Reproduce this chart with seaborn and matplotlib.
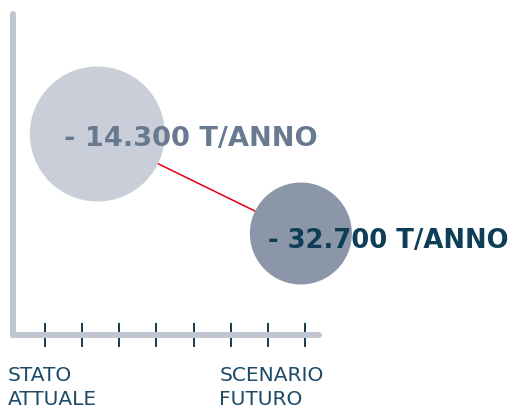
import matplotlib
matplotlib.use("Agg")
import matplotlib.pyplot as plt
import seaborn as sns

# dati: riduzione annua nei due scenari
scenari = ["STATO\nATTUALE", "SCENARIO\nFUTURO"]
riduzione = [-14300, -32700]          # t/anno
tempo = [2.41, 7.89]                  # posizione sull'asse dei tempi
passi = [1, 2, 3, 4, 5, 6, 7, 8]      # tacche dell'asse x
etichetta_x = [0.0, 5.69]             # dove cominciano le etichette in basso

colori_bolle = ["#c9ced8", "#8b97a8"]
colori_testo = ["#687a90", "#0e3d57"]
grigio_assi = "#c0c6d0"
blu = "#1d4b68"

sns.set_style("white")

fig = plt.figure(figsize=(5.17, 4.08), dpi=100)
ax = fig.add_axes([12.5 / 517, 73 / 408, 306.5 / 517, 321 / 408])
ax.set_xlim(0.125, 8.378)
ax.set_ylim(-51470, 7891)

# linea rossa tra i due scenari
sns.lineplot(x=tempo, y=riduzione, ax=ax, color="#e3000f", linewidth=1.1,
             zorder=2, clip_on=False)

# bolle
sns.scatterplot(x=tempo, y=riduzione, hue=scenari, palette=colori_bolle,
                size=scenari, sizes={scenari[0]: 9448, scenari[1]: 5393},
                linewidth=0, legend=False, ax=ax, zorder=3, clip_on=False)

# valori
for t, v, c, dy, fs in zip(tempo, riduzione, colori_testo, [-3.5, -5.5], [19.6, 18.6]):
    testo = "- " + f"{abs(v):,}".replace(",", ".") + " T/ANNO"
    ax.annotate(testo, (t, v), xytext=(-24, dy), textcoords="offset points",
                ha="left", va="center", fontsize=fs, fontweight="bold",
                color=c, zorder=4, annotation_clip=False)

# assi
for lato in ["top", "right"]:
    ax.spines[lato].set_visible(False)
for lato in ["left", "bottom"]:
    ax.spines[lato].set_color(grigio_assi)
    ax.spines[lato].set_linewidth(4.3)
    ax.spines[lato].set_capstyle("round")
    ax.spines[lato].set_zorder(1)

ax.set_xticks(passi)
ax.set_yticks([])
ax.tick_params(axis="x", direction="inout", length=17, width=1.4, color="#17384f",
               labelbottom=False, bottom=True)

# etichette degli scenari
for x, s in zip(etichetta_x, scenari):
    ax.text(x, -0.097, s, transform=ax.get_xaxis_transform(), ha="left",
            va="top", fontsize=14.5, color=blu, linespacing=1.3, clip_on=False)

fig.savefig("out.png", dpi=100)
